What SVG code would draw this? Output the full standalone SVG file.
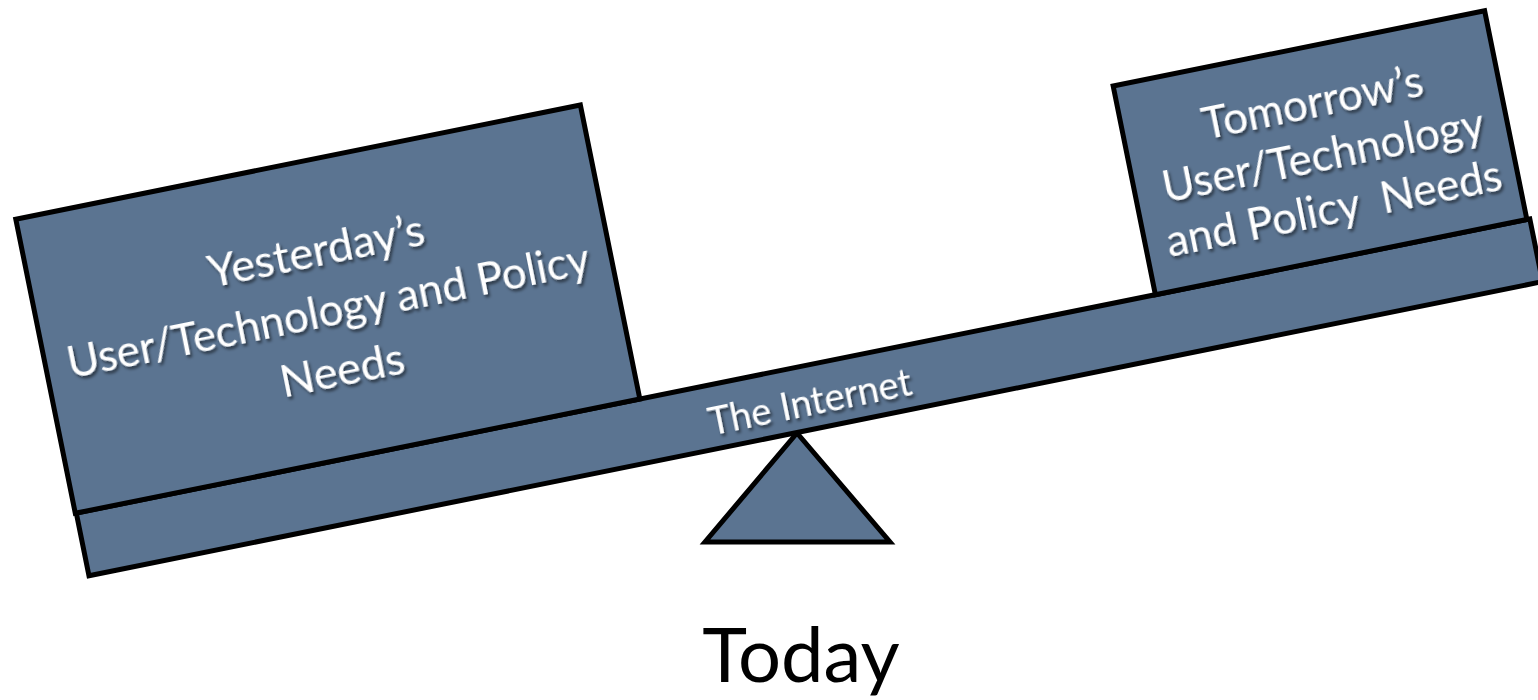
<svg xmlns="http://www.w3.org/2000/svg" width="1538" height="700" viewBox="0 0 1538 700">
<defs>
<filter id="shadow" x="-10%" y="-40%" width="120%" height="180%">
<feDropShadow dx="1.5" dy="3" stdDeviation="1.8" flood-color="#000" flood-opacity="0.55"/>
</filter>
</defs>
<style>
.shape{fill:#5b7491;stroke:#000;stroke-width:5;stroke-linejoin:miter}
.lbl{font-family:Lato,"Open Sans","Liberation Sans",sans-serif;fill:#fff;text-anchor:middle;filter:url(#shadow)}
.title{font-family:Lato,"Open Sans","Liberation Sans",sans-serif;fill:#000;text-anchor:middle}
</style>
<rect width="1538" height="700" fill="#fff"/>
<g id="fulcrum"><polygon class="shape" points="797,433 705,542 890,542"/></g>
<g transform="rotate(-11.44)">
<g id="beam">
<rect class="shape" x="-27" y="518" width="1483" height="64"/>
<text class="lbl" x="714" y="568" font-size="38">The Internet</text>
</g>
<g id="box-yesterday">
<rect class="shape" x="-28" y="218" width="576" height="300"/>
<text class="lbl" x="260" y="324" font-size="45">Yesterday’s</text>
<text class="lbl" x="260" y="385" font-size="45" textLength="532" lengthAdjust="spacingAndGlyphs">User/Technology and Policy</text>
<text class="lbl" x="262" y="446" font-size="45">Needs</text>
</g>
<g id="box-tomorrow">
<rect class="shape" x="1074" y="305" width="379" height="213"/>
<text class="lbl" font-size="44" xml:space="preserve"><tspan x="1266" y="376">Tomorrow’s</tspan><tspan x="1266" y="430">User/Technology</tspan><tspan x="1266" y="484">and Policy  Needs</tspan></text>
</g>
</g>
<g id="connectors"/>
<g id="label-today"><text class="title" x="801" y="682" font-size="76">Today</text></g>
</svg>
